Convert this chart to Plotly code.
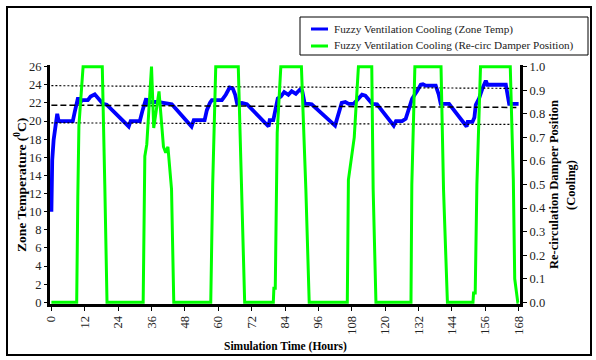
import plotly.graph_objects as go

# ---- data -------------------------------------------------------------
# Zone temperature (deg C) under fuzzy ventilation cooling, over one week
temp_hours = [
    0, 0.3, 0.8, 1.5, 2.1, 2.6, 7.7, 8.4, 9.1, 9.6, 10.2, 10.9, 13.1, 14.1, 15.6, 17.0, 18.5, 19.9,
    27.8, 28.5, 31.8, 32.8, 33.6, 34.1, 34.6, 35.4, 38.2, 40.0, 41.8, 43.3,
    50.4, 51.2, 55.1, 55.9, 57.0, 57.7, 61.3, 62.7, 64.1, 65.2, 66.1, 66.8, 68.5, 70.3,
    78.1, 78.5, 79.8, 80.3, 81.4, 82.5, 83.7, 85.2, 86.4, 87.9, 89.3, 90.2, 91.1, 92.6, 93.6,
    102.0, 102.6, 103.7, 104.4, 105.7, 106.9, 108.7, 109.9, 111.7, 112.9, 114.1, 115.4, 117.1,
    123.1, 123.9, 126.1, 127.4, 128.2, 129.1, 129.7, 131.5, 132.8, 133.6, 134.6, 138.2, 139.3, 140.0, 143.0,
    149.3, 149.7, 151.4, 152.1, 152.6, 153.8, 155.0, 156.2, 156.8, 163.4, 164.6, 168,
]
zone_temp = [
    10, 15.7, 17.9, 19.6, 20.8, 20.0, 20.0, 21.0, 21.9, 22.6, 21.9, 22.3, 22.3, 22.7, 22.95, 22.5, 21.9, 21.8,
    19.4, 20.0, 20.0, 21.2, 22.0, 22.5, 21.9, 22.1, 22.1, 22.0, 22.0, 21.85,
    19.4, 20.1, 20.1, 21.2, 22.0, 22.3, 22.3, 22.9, 23.7, 23.6, 22.9, 21.9, 22.0, 21.85,
    19.4, 20.1, 20.1, 21.0, 22.5, 22.7, 23.2, 22.9, 23.3, 23.0, 23.45, 23.3, 21.9, 21.9, 21.85,
    19.5, 20.1, 21.5, 22.0, 22.1, 21.9, 21.9, 22.3, 22.9, 22.8, 22.35, 21.9, 21.85,
    19.5, 20.0, 20.0, 20.25, 21.1, 21.8, 22.45, 23.3, 24.0, 24.05, 23.9, 23.9, 22.9, 21.9, 21.9,
    19.4, 19.9, 19.9, 20.4, 21.8, 22.5, 23.6, 24.45, 24.0, 24.0, 21.9, 21.9,
]

# Re-circulation damper position (0 = closed, 1 = fully open) during cooling
damper_hours = [
    0, 9.1, 9.5, 9.9, 11.4, 18.3, 19.2, 20.0,
    33.0, 33.6, 34.3, 36.0, 36.8, 38.7, 40.3, 41.1, 41.9, 43.2, 44.0,
    57.3, 58.0, 59.1, 67.2, 68.3, 69.5,
    79.8, 80.0, 80.5, 81.2, 82.5, 89.9, 91.5, 92.7,
    106.4, 106.8, 108.9, 110.4, 115.2, 115.7, 116.7,
    129.3, 129.6, 130.7, 140.1, 141.0, 142.4,
    151.6, 151.8, 152.4, 153.0, 154.3, 165.0, 166.1, 166.6, 167.7, 168,
]
damper_pos = [
    0, 0, 0.45, 0.75, 1.0, 1.0, 0.5, 0,
    0, 0.62, 0.67, 1.0, 0.74, 0.895, 0.66, 0.635, 0.66, 0.48, 0,
    0, 0.5, 1.0, 1.0, 0.48, 0,
    0, 0.06, 0.06, 0.72, 1.0, 1.0, 0.48, 0,
    0, 0.52, 0.70, 1.0, 1.0, 0.48, 0,
    0, 0.5, 1.0, 1.0, 0.48, 0,
    0, 0.04, 0.04, 0.5, 1.0, 1.0, 0.52, 0.1, 0, 0,
]

# Comfort band: upper limit, set point, lower limit (deg C)
band_hours = [0, 168]
band_upper = [23.9, 23.6]
band_setpoint = [21.75, 21.5]
band_lower = [19.8, 19.62]

x_ticks = list(range(0, 169, 12))
temp_ticks = list(range(0, 27, 2))
damper_ticks = [round(i / 10, 1) for i in range(11)]

series_names = [
    "Fuzzy Ventilation Cooling (Zone Temp)",
    "Fuzzy Ventilation Cooling (Re-circ Damper Position)",
]
x_title = "Simulation Time (Hours)"
y_title = "Zone Temperature (<sup>0</sup>C)"
y2_title = ["Re-circulation Damper Position", "(Cooling)"]

# ---- layout geometry (pixels) -----------------------------------------
W, H = 596, 360
ML, MR, MT, MB = 50, 76, 65, 56
PW, PH = W - ML - MR, H - MT - MB


def paper(px, py):
    return (px - ML) / PW, (H - MB - py) / PH


SERIF = "Liberation Serif"
BLUE = "#0000ff"
GREEN = "#00ff00"

fig = go.Figure()

fig.add_trace(go.Scatter(
    x=temp_hours, y=zone_temp, mode="lines", name=series_names[0],
    line=dict(color=BLUE, width=3.8), showlegend=False,
))
fig.add_trace(go.Scatter(
    x=damper_hours, y=damper_pos, mode="lines", name=series_names[1],
    line=dict(color=GREEN, width=3), yaxis="y2", showlegend=False,
))
for vals, dash, w in [(band_upper, "2px,2px", 1.2),
                      (band_setpoint, "6px,3px", 1.5),
                      (band_lower, "2px,2px", 1.2)]:
    fig.add_trace(go.Scatter(
        x=band_hours, y=vals, mode="lines", showlegend=False, hoverinfo="skip",
        line=dict(color="black", width=w, dash=dash),
    ))

tick_font = dict(family=SERIF, size=12.5, color="#222")
title_font = dict(family=SERIF, size=11.5, color="black")

# pad the ranges a little so lines at the limits are not clipped
fig.update_layout(
    width=W, height=H,
    margin=dict(l=ML, r=MR, t=MT, b=MB, pad=0, autoexpand=False),
    paper_bgcolor="white", plot_bgcolor="white",
    showlegend=False,
    font=dict(family=SERIF),
    xaxis=dict(
        range=[-0.5, 168.5], tickvals=x_ticks, ticktext=[str(t) for t in x_ticks],
        tickangle=-90, tickfont=tick_font, ticks="outside", ticklen=4, tickwidth=1,
        tickcolor="black", showgrid=False, zeroline=False, automargin=False,
        showline=True, linecolor="black", linewidth=3, layer="below traces",
    ),
    yaxis=dict(
        range=[-0.18, 26.18], tickvals=temp_ticks, tickfont=tick_font,
        ticks="outside", ticklen=3, tickwidth=1, tickcolor="black",
        showgrid=False, zeroline=False, automargin=False,
        showline=True, linecolor="black", linewidth=3, layer="below traces",
    ),
    yaxis2=dict(
        range=[-0.18 / 26, 26.18 / 26], tickvals=damper_ticks,
        ticktext=[f"{v:.1f}" for v in damper_ticks], tickfont=tick_font,
        overlaying="y", side="right", ticks="outside", ticklen=4, tickwidth=1,
        tickcolor="black", showgrid=False, zeroline=False, automargin=False,
        showline=True, linecolor="black", linewidth=3, layer="below traces",
    ),
)

shapes = []
annotations = []
# outer frame
x0, y0 = paper(7, 355)
x1, y1 = paper(591, 7)
shapes.append(dict(type="rect", xref="paper", yref="paper", x0=x0, y0=y0, x1=x1, y1=y1,
                   line=dict(color="black", width=2), layer="below"))

# axis titles
ax, ay = paper(285, 346)
annotations.append(dict(xref="paper", yref="paper", x=ax, y=ay, text=f"<b>{x_title}</b>",
                        showarrow=False, xanchor="center", yanchor="middle",
                        font=title_font))
ax, ay = paper(20, 185)
annotations.append(dict(xref="paper", yref="paper", x=ax, y=ay, text=f"<b>{y_title}</b>",
                        showarrow=False, xanchor="center", yanchor="middle", textangle=-90,
                        font=dict(family=SERIF, size=13.5, color="black")))
for line_text, px in zip(y2_title, [554, 571]):
    ax, ay = paper(px, 185)
    annotations.append(dict(xref="paper", yref="paper", x=ax, y=ay, text=f"<b>{line_text}</b>",
                            showarrow=False, xanchor="center", yanchor="middle", textangle=-90,
                            font=dict(family=SERIF, size=12.5, color="black")))

# legend box
lx0, ly0 = paper(300, 55)
lx1, ly1 = paper(588, 17)
shapes.append(dict(type="rect", xref="paper", yref="paper", x0=lx0, y0=ly0, x1=lx1, y1=ly1,
                   line=dict(color="black", width=1), fillcolor="white", layer="above"))
for name, color, row_y in [(series_names[0], BLUE, 29), (series_names[1], GREEN, 46)]:
    sx0, sy = paper(311, row_y)
    sx1, _ = paper(328, row_y)
    shapes.append(dict(type="line", xref="paper", yref="paper", x0=sx0, x1=sx1, y0=sy, y1=sy,
                       line=dict(color=color, width=3), layer="above"))
    tx, ty = paper(332, row_y)
    annotations.append(dict(xref="paper", yref="paper", x=tx, y=ty, xanchor="left",
                            yanchor="middle", text=name, showarrow=False,
                            font=dict(family=SERIF, size=11.2, color="#222")))

fig.update_layout(shapes=shapes, annotations=annotations)

fig.write_html("out.html")
